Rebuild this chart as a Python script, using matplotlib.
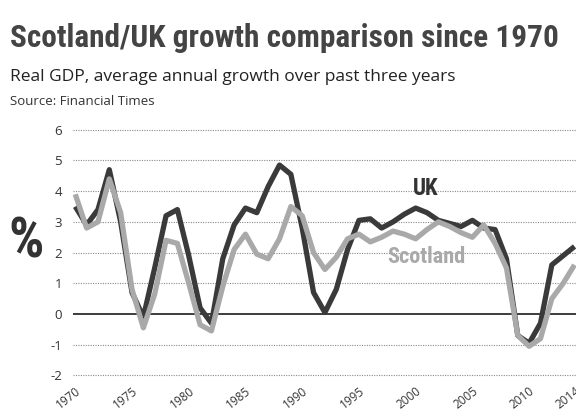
import matplotlib
matplotlib.use('Agg')
import matplotlib.pyplot as plt

years = list(range(1970, 2015))
uk = [3.5, 2.9, 3.4, 4.7, 3.0, 0.7, -0.1, 1.5, 3.2, 3.4,
      1.9, 0.2, -0.3, 1.8, 2.9, 3.45, 3.3, 4.15, 4.85, 4.55,
      2.8, 0.7, 0.05, 0.8, 2.1, 3.05, 3.1, 2.8, 3.0, 3.25,
      3.45, 3.3, 3.05, 2.95, 2.85, 3.05, 2.8, 2.75, 1.8, -0.7,
      -0.95, -0.3, 1.6, 1.9, 2.2]
scotland = [3.9, 2.8, 3.0, 4.4, 3.3, 0.8, -0.45, 0.65, 2.4, 2.3,
            1.0, -0.35, -0.55, 0.9, 2.1, 2.6, 1.95, 1.8, 2.45, 3.5,
            3.2, 2.0, 1.45, 1.85, 2.45, 2.6, 2.35, 2.5, 2.7, 2.6,
            2.45, 2.75, 3.0, 2.85, 2.65, 2.5, 2.9, 2.3, 1.5, -0.7,
            -1.05, -0.8, 0.5, 1.0, 1.6]
xtick_years = [1970, 1975, 1980, 1985, 1990, 1995, 2000, 2005, 2010, 2014]
yticks = [-2, -1, 0, 1, 2, 3, 4, 5, 6]

title = "Scotland/UK growth comparison since 1970"
subtitle = "Real GDP, average annual growth over past three years"
source = "Source: Financial Times"

COND = ['Roboto Condensed', 'Liberation Sans Narrow', 'DejaVu Sans']
BODY = ['Open Sans', 'DejaVu Sans']

W, H = 576, 413
fig = plt.figure(figsize=(W / 100, H / 100), dpi=100)
fig.patch.set_facecolor('white')

def fx(x):
    return x / W

def fy(y):
    return 1 - y / H

ax = fig.add_axes([fx(73), fy(378.5), (576 - 73) / W, (378.5 - 126.7) / H])
ax.set_xlim(1969.8, 2014.13)
ax.set_ylim(-2.1, 6.1)

for v in yticks:
    if v != 0:
        ax.axhline(v, color='#8a8a8a', lw=0.8, ls=(0, (1, 1.2)), zorder=1)
ax.axhline(0, color='#3c3c3c', lw=1.4, zorder=2)

ax.plot(years, uk, color='#3a3a3a', lw=3.8, solid_joinstyle='round',
        solid_capstyle='butt', zorder=3, clip_on=False)
ax.plot(years, scotland, color='#a9a9a9', lw=3.8, solid_joinstyle='round',
        solid_capstyle='butt', zorder=4, clip_on=False)

ax.set_yticks(yticks)
ax.set_yticklabels([str(v) for v in yticks], fontfamily=BODY, fontsize=9.5,
                   color='#333333')
ax.set_xticks(xtick_years)
ax.set_xticklabels([str(v) for v in xtick_years], fontfamily=BODY, fontsize=8.5,
                   color='#333333', rotation=38, ha='right',
                   rotation_mode='anchor')
ax.tick_params(axis='y', length=0, pad=8)
ax.tick_params(axis='x', length=0, pad=4)
for s in ax.spines.values():
    s.set_visible(False)

ax.text(2000.9, 4.1, "UK", fontfamily=COND, fontweight='bold', fontsize=16.5,
        color='#333333', ha='center', va='center')
ax.text(2000.9, 1.85, "Scotland", fontfamily=COND, fontweight='bold',
        fontsize=16, color='#a9a9a9', ha='center', va='center')

fig.text(fx(26.5), fy(243), "%", fontfamily=COND, fontweight='bold',
         fontsize=40, color='#333333', ha='center', va='center')

fig.text(fx(10), fy(47), title, fontfamily=COND, fontweight='bold',
         fontsize=22.5, color='#444444', ha='left', va='baseline')
fig.text(fx(10), fy(81), subtitle, fontfamily=BODY, fontsize=12.5,
         color='#222222', ha='left', va='baseline')
fig.text(fx(10), fy(105), source, fontfamily=BODY, fontsize=9.5,
         color='#333333', ha='left', va='baseline')

fig.savefig('out.png', dpi=100, facecolor='white')
